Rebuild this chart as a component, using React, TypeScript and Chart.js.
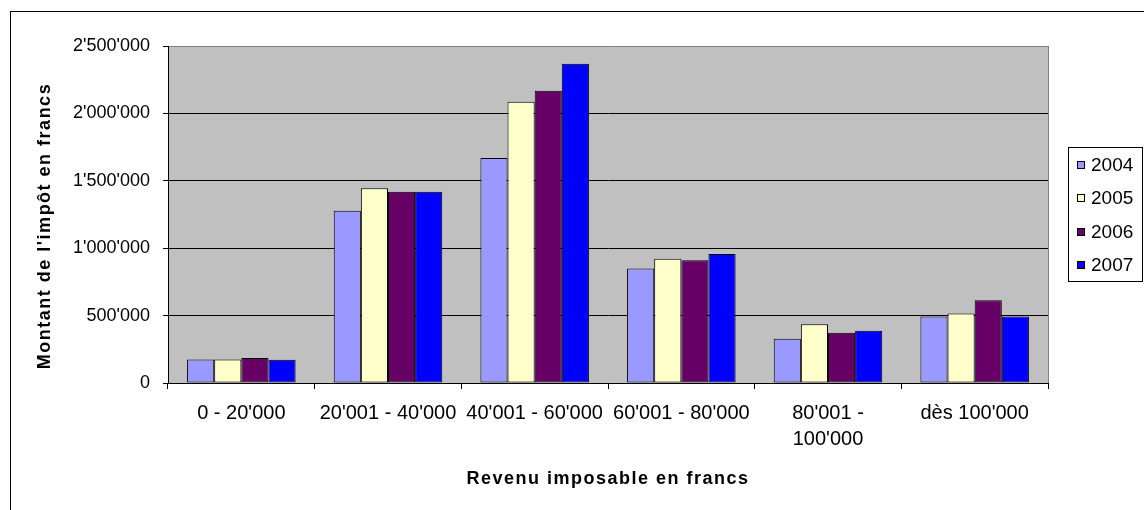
import React, { useEffect, useRef } from "react";
import { Chart, registerables } from "chart.js";

Chart.register(...registerables);

const categories: (string | string[])[] = [
  "0 - 20'000",
  "20'001 - 40'000",
  "40'001 - 60'000",
  "60'001 - 80'000",
  ["80'001 -", "100'000"],
  "dès 100'000",
];
const seriesNames = ["2004", "2005", "2006", "2007"];
const values2004 = [175000, 1278000, 1669000, 850000, 329000, 494000];
const values2005 = [175000, 1444000, 2087000, 922000, 435000, 516000];
const values2006 = [185000, 1419000, 2168000, 910000, 373000, 613000];
const values2007 = [173000, 1419000, 2369000, 957000, 388000, 494000];
const seriesColors = ["#9999FF", "#FFFFCC", "#660066", "#0000FF"];
const yMax = 2500000;
const yStep = 500000;
const yTitle = "Montant de l'impôt en francs";
const xTitle = "Revenu imposable en francs";

const FONT = "'Liberation Sans', Arial, sans-serif";

function fmt(v: number): string {
  return String(Math.round(v)).replace(/\B(?=(\d{3})+(?!\d))/g, "'");
}

const decorPlugin = {
  id: "decor",
  beforeDraw(chart: any) {
    const { ctx, chartArea } = chart;
    ctx.save();
    ctx.fillStyle = "#C0C0C0";
    ctx.fillRect(chartArea.left, chartArea.top, chartArea.right - chartArea.left, chartArea.bottom - chartArea.top);
    ctx.restore();
  },
  afterDraw(chart: any) {
    const { ctx, chartArea } = chart;
    ctx.save();
    // outer border
    ctx.strokeStyle = "#000";
    ctx.lineWidth = 1;
    ctx.strokeRect(10.5, 11.5, 1200, 600);
    // plot right border
    ctx.strokeStyle = "#808080";
    ctx.beginPath();
    ctx.moveTo(Math.round(chartArea.right) + 0.5, chartArea.top);
    ctx.lineTo(Math.round(chartArea.right) + 0.5, chartArea.bottom);
    ctx.stroke();

    // axis titles
    ctx.fillStyle = "#000";
    ctx.font = `bold 18px ${FONT}`;
    (ctx as any).letterSpacing = "1.5px";
    ctx.textAlign = "center";
    ctx.textBaseline = "middle";
    ctx.fillText(xTitle, (chartArea.left + chartArea.right) / 2, 479);
    ctx.save();
    ctx.translate(45, 226);
    ctx.rotate(-Math.PI / 2);
    ctx.fillText(yTitle, 0, 0);
    ctx.restore();
    (ctx as any).letterSpacing = "0px";

    // legend
    const lx = 1068, ly = 147, lw = 74, lh = 134;
    ctx.fillStyle = "#fff";
    ctx.fillRect(lx, ly, lw, lh);
    ctx.strokeStyle = "#000";
    ctx.strokeRect(lx + 0.5, ly + 0.5, lw, lh);
    ctx.font = `19px ${FONT}`;
    ctx.textAlign = "left";
    ctx.textBaseline = "middle";
    chart.data.datasets.forEach((ds: any, i: number) => {
      const cy = 164.5 + i * 33.5;
      ctx.fillStyle = ds.backgroundColor;
      ctx.fillRect(1077, Math.round(cy - 4), 8, 8);
      ctx.strokeStyle = "#000";
      ctx.strokeRect(1077.5, Math.round(cy - 4) + 0.5, 7, 7);
      ctx.fillStyle = "#000";
      ctx.fillText(ds.label, 1091, cy + 1);
    });
    ctx.restore();
  },
};

export default function App() {
  const ref = useRef<HTMLCanvasElement | null>(null);
  useEffect(() => {
    if (!ref.current) return;
    const seriesValues = [values2004, values2005, values2006, values2007];
    const chart = new Chart(ref.current, {
      type: "bar",
      data: {
        labels: categories,
        datasets: seriesNames.map((name, i) => ({
          label: name,
          data: seriesValues[i],
          backgroundColor: seriesColors[i],
          borderColor: "#000",
          borderWidth: 1,
          borderSkipped: false,
          categoryPercentage: 0.74,
          barPercentage: 1,
        })),
      },
      options: {
        animation: false,
        responsive: false,
        devicePixelRatio: 1,
        layout: { padding: { left: 0, top: 46, right: 96, bottom: 0 } },
        plugins: {
          legend: { display: false },
          title: { display: false },
          tooltip: { enabled: false },
        },
        scales: {
          x: {
            offset: true,
            grid: {
              offset: true,
              drawOnChartArea: false,
              drawTicks: true,
              tickLength: 6,
              tickColor: "#000",
              color: "#000",
            },
            border: { color: "#000", width: 1 },
            ticks: {
              color: "#000",
              font: { family: FONT, size: 20, lineHeight: 1.3 },
              autoSkip: false,
              maxRotation: 0,
              minRotation: 0,
              padding: 11,
            },
            afterFit(scale: any) {
              scale.height = 127;
            },
          },
          y: {
            min: 0,
            max: yMax,
            ticks: {
              stepSize: yStep,
              color: "#000",
              font: { family: FONT, size: 18 },
              padding: 13,
              callback: (v: any) => fmt(Number(v)),
            },
            grid: {
              color: (c: any) => (c.tick && c.tick.value === yMax ? "#808080" : "#000"),
              tickColor: "#000",
              tickLength: 5,
              drawTicks: true,
            },
            border: { color: "#000", width: 1 },
            afterFit(scale: any) {
              scale.width = 168;
            },
          },
        },
      },
      plugins: [decorPlugin],
    });
    return () => chart.destroy();
  }, []);
  return (
    <div style={{ position: "absolute", left: 0, top: 0, width: 1144, height: 510, background: "#fff" }}>
      <canvas ref={ref} width={1144} height={510} style={{ display: "block", width: 1144, height: 510 }} />
    </div>
  );
}
